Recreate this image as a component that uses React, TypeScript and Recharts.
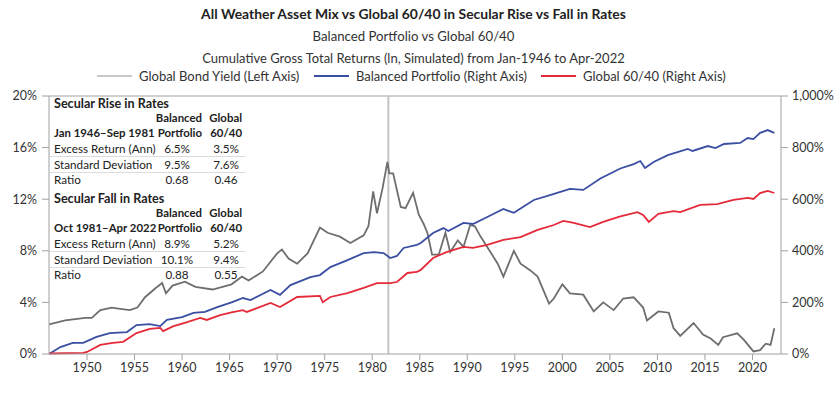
import React from "react";
import {
  LineChart,
  Line,
  XAxis,
  YAxis,
  ReferenceLine,
} from "recharts";

const FONT = "Lato, 'Open Sans', sans-serif";

// Global bond yield (left axis, %)
const bondYears = [
  1946.0, 1947.7, 1949.8, 1950.5, 1951.4, 1952.6, 1953.5, 1954.5, 1955.3, 1956.1,
  1957.2, 1957.9, 1958.3, 1959.0, 1960.3, 1961.4, 1963.2, 1965.2, 1966.3, 1967.0,
  1968.5, 1970.0, 1970.5, 1971.2, 1972.1, 1973.2, 1974.5, 1975.3, 1976.6, 1977.7,
  1979.1, 1979.6, 1980.1, 1980.5, 1981.1, 1981.6, 1981.8, 1982.2, 1983.0, 1983.5,
  1984.3, 1984.9, 1985.4, 1985.8, 1986.3, 1987.0, 1987.7, 1988.2, 1989.0, 1989.6,
  1990.3, 1990.8, 1991.4, 1992.1, 1993.2, 1993.8, 1994.9, 1995.6, 1996.6, 1997.4,
  1998.6, 1999.1, 2000.0, 2000.8, 2002.2, 2003.3, 2004.3, 2005.4, 2006.4, 2007.5,
  2008.5, 2008.9, 2010.1, 2011.2, 2011.7, 2012.4, 2013.8, 2014.8, 2015.6, 2016.4,
  2016.9, 2018.4, 2019.1, 2020.1, 2020.8, 2021.4, 2021.9, 2022.3,
];
const bondYield = [
  2.3, 2.6, 2.8, 2.8, 3.4, 3.6, 3.5, 3.4, 3.6, 4.4,
  5.1, 5.5, 4.7, 5.3, 5.6, 5.2, 5.0, 5.4, 6.0, 5.7,
  6.4, 7.8, 8.1, 7.4, 7.0, 7.8, 9.8, 9.4, 9.1, 8.6,
  9.2, 9.9, 12.6, 10.9, 12.9, 14.9, 14.0, 14.0, 11.4, 11.3,
  12.5, 10.8, 10.1, 9.4, 7.7, 7.7, 9.4, 7.9, 8.8, 8.3,
  10.0, 9.9, 9.1, 8.3, 7.0, 6.0, 8.0, 7.0, 6.5, 6.0,
  3.9, 4.3, 5.4, 4.7, 4.6, 3.3, 4.0, 3.4, 4.3, 4.4,
  3.6, 2.6, 3.3, 3.2, 2.0, 1.4, 2.4, 1.5, 1.2, 0.7,
  1.3, 1.6, 1.1, 0.2, 0.3, 0.8, 0.7, 2.0,
];

// Balanced Portfolio cumulative return (right axis, %)
const balancedYears = [
  1946.0, 1947.2, 1948.5, 1949.6, 1951.0, 1952.4, 1954.2, 1955.2, 1956.6, 1957.7,
  1958.4, 1960.0, 1961.2, 1962.4, 1963.7, 1965.2, 1966.4, 1967.2, 1969.3, 1970.3,
  1971.4, 1973.5, 1974.5, 1975.6, 1977.4, 1979.1, 1980.2, 1981.2, 1981.9, 1982.6,
  1983.3, 1984.7, 1985.1, 1986.4, 1987.5, 1988.0, 1989.6, 1990.6, 1992.1, 1993.8,
  1994.9, 1997.0, 1998.7, 2000.8, 2002.2, 2004.0, 2006.1, 2007.5, 2008.2, 2008.7,
  2009.6, 2011.1, 2013.2, 2013.7, 2015.3, 2016.1, 2017.0, 2018.7, 2019.5, 2020.1,
  2020.8, 2021.6, 2022.3,
];
const balancedReturn = [
  0, 27, 43, 43, 66, 81, 85, 112, 116, 108,
  132, 143, 159, 163, 182, 200, 217, 209, 248, 229,
  267, 298, 306, 337, 364, 391, 395, 391, 372, 380,
  411, 423, 430, 469, 488, 477, 508, 504, 531, 562,
  547, 597, 616, 640, 636, 680, 719, 736, 748, 721,
  744, 771, 795, 787, 806, 798, 814, 818, 837, 833,
  857, 868, 857,
];

// Global 60/40 cumulative return (right axis, %)
const globalYears = [
  1946.0, 1949.6, 1950.0, 1951.4, 1952.7, 1953.8, 1955.2, 1956.6, 1957.7, 1958.0,
  1959.1, 1960.2, 1961.9, 1962.6, 1964.0, 1965.2, 1966.4, 1966.8, 1969.3, 1970.3,
  1972.1, 1974.5, 1974.8, 1975.6, 1977.4, 1979.1, 1980.5, 1981.9, 1982.6, 1983.7,
  1984.7, 1985.1, 1986.4, 1987.8, 1989.6, 1990.6, 1992.1, 1993.8, 1995.6, 1997.4,
  1999.1, 2000.1, 2001.2, 2002.9, 2004.3, 2006.1, 2007.9, 2008.5, 2009.1, 2010.1,
  2011.7, 2012.4, 2014.5, 2016.3, 2018.0, 2019.5, 2020.1, 2020.8, 2021.6, 2022.3,
];
const globalReturn = [
  2, 4, 8, 35, 43, 47, 81, 97, 101, 89,
  108, 120, 140, 132, 151, 161, 170, 163, 198, 182,
  221, 225, 201, 221, 236, 256, 275, 275, 279, 314,
  318, 326, 372, 395, 415, 411, 423, 442, 453, 481,
  500, 516, 508, 492, 512, 533, 550, 539, 512, 543,
  554, 550, 578, 581, 597, 605, 601, 624, 632, 624,
];

const yearTicks = [1950, 1955, 1960, 1965, 1970, 1975, 1980, 1985, 1990, 1995, 2000, 2005, 2010, 2015, 2020];
const leftTicks = [0, 4, 8, 12, 16, 20];
const rightTicks = [0, 200, 400, 600, 800, 1000];

const legendItems = [
  { label: "Global Bond Yield (Left Axis)", color: "#c8c8c8", x: 97 },
  { label: "Balanced Portfolio (Right Axis)", color: "#3a4ea2", x: 314 },
  { label: "Global 60/40 (Right Axis)", color: "#e52a3a", x: 541 },
];

const riseRows = [
  ["Excess Return (Ann)", "6.5%", "3.5%"],
  ["Standard Deviation", "9.5%", "7.6%"],
  ["Ratio", "0.68", "0.46"],
];
const fallRows = [
  ["Excess Return (Ann)", "8.9%", "5.2%"],
  ["Standard Deviation", "10.1%", "9.4%"],
  ["Ratio", "0.88", "0.55"],
];

const toPoints = (years: number[], values: number[]) =>
  years.map((year, i) => ({ year, value: values[i] }));

const bondData = toPoints(bondYears, bondYield);
const balancedData = toPoints(balancedYears, balancedReturn);
const globalData = toPoints(globalYears, globalReturn);

const formatRight = (v: number) => `${v.toLocaleString("en-US")}%`;

function StatsBlock({ top, title, period, rows }: { top: number; title: string; period: string; rows: string[][] }) {
  const txt: React.CSSProperties = { position: "absolute", whiteSpace: "nowrap", lineHeight: "14px" };
  const head: React.CSSProperties = { ...txt, fontWeight: 700, fontSize: 11.4 };
  return (
    <div style={{ position: "absolute", left: 0, top, width: 250, height: 100 }}>
      <div style={{ ...txt, left: 54, top: 0, fontWeight: 700, fontSize: 12.6 }}>{title}</div>
      <div style={{ ...head, left: 140, width: 62, textAlign: "right", top: 14 }}>Balanced</div>
      <div style={{ ...head, left: 200, width: 42, textAlign: "right", top: 14 }}>Global</div>
      <div style={{ ...head, left: 54, top: 29 }}>{period}</div>
      <div style={{ ...head, left: 140, width: 62, textAlign: "right", top: 29 }}>Portfolio</div>
      <div style={{ ...head, left: 200, width: 42, textAlign: "right", top: 29 }}>60/40</div>
      {rows.map((r, i) => (
        <div key={r[0]}>
          <div style={{ ...txt, left: 54, top: 44 + i * 15.5, fontSize: 11.7 }}>{r[0]}</div>
          <div style={{ ...txt, left: 156, width: 42, textAlign: "center", top: 44 + i * 15.5, fontSize: 11.7 }}>{r[1]}</div>
          <div style={{ ...txt, left: 205, width: 42, textAlign: "center", top: 44 + i * 15.5, fontSize: 11.7 }}>{r[2]}</div>
          {i < rows.length - 1 && (
            <div style={{ position: "absolute", left: 50, top: 59 + i * 15.5, width: 195, height: 1, background: "#dcdcdc" }} />
          )}
        </div>
      ))}
    </div>
  );
}

export default function App() {
  return (
    <div
      style={{
        position: "fixed",
        left: 0,
        top: 0,
        width: 840,
        height: 393,
        background: "#fff",
        fontFamily: FONT,
        color: "#222",
      }}
    >
      <div style={{ position: "absolute", left: 0, top: 5, width: 827, textAlign: "center", fontWeight: 700, fontSize: 13.9 }}>
        All Weather Asset Mix vs Global 60/40 in Secular Rise vs Fall in Rates
      </div>
      <div style={{ position: "absolute", left: 0, top: 28, width: 827, textAlign: "center", fontSize: 13.2, color: "#333" }}>
        Balanced Portfolio vs Global 60/40
      </div>
      <div style={{ position: "absolute", left: 0, top: 50, width: 827, textAlign: "center", fontSize: 13, color: "#333" }}>
        Cumulative Gross Total Returns (ln, Simulated) from Jan-1946 to Apr-2022
      </div>
      {legendItems.map((item) => (
        <div key={item.label} style={{ position: "absolute", left: item.x, top: 67, height: 18, display: "flex", alignItems: "center" }}>
          <div style={{ width: 35, height: 2, background: item.color, marginRight: 7 }} />
          <span style={{ fontSize: 13, color: "#333", whiteSpace: "nowrap" }}>{item.label}</span>
        </div>
      ))}

      <div style={{ position: "absolute", left: 0, top: 0 }}>
        <LineChart width={840} height={393} margin={{ top: 96, right: 0, bottom: 9, left: 0 }}>
          <XAxis
            dataKey="year"
            type="number"
            domain={[1946, 2023]}
            ticks={yearTicks}
            allowDataOverflow
            height={30}
            tickSize={6}
            tickMargin={3}
            stroke="#a0a0a0"
            tick={{ fill: "#333", fontSize: 12.5, fontFamily: FONT }}
          />
          <YAxis
            yAxisId="left"
            domain={[0, 20]}
            ticks={leftTicks}
            width={49}
            tickSize={7}
            tickMargin={5}
            stroke="#a0a0a0"
            tickFormatter={(v: number) => `${v}%`}
            tick={{ fill: "#333", fontSize: 12.5, fontFamily: FONT }}
          />
          <YAxis
            yAxisId="right"
            orientation="right"
            domain={[0, 1000]}
            ticks={rightTicks}
            width={59}
            tickSize={7}
            tickMargin={4}
            stroke="#a0a0a0"
            tickFormatter={formatRight}
            tick={{ fill: "#333", fontSize: 12.5, fontFamily: FONT }}
          />
          <ReferenceLine yAxisId="left" y={20} stroke="#a0a0a0" strokeWidth={1} />
          <ReferenceLine yAxisId="left" x={1981.7} stroke="#c4c4c4" strokeWidth={2} />
          <Line
            yAxisId="left"
            data={bondData}
            dataKey="value"
            type="linear"
            stroke="#6e6e6e"
            strokeWidth={1.8}
            dot={false}
            isAnimationActive={false}
          />
          <Line
            yAxisId="right"
            data={balancedData}
            dataKey="value"
            type="linear"
            stroke="#3a4ea2"
            strokeWidth={1.8}
            dot={false}
            isAnimationActive={false}
          />
          <Line
            yAxisId="right"
            data={globalData}
            dataKey="value"
            type="linear"
            stroke="#e52a3a"
            strokeWidth={1.8}
            dot={false}
            isAnimationActive={false}
          />
        </LineChart>
      </div>

      <StatsBlock top={97} title="Secular Rise in Rates" period="Jan 1946–Sep 1981" rows={riseRows} />
      <StatsBlock top={192} title="Secular Fall in Rates" period="Oct 1981–Apr 2022" rows={fallRows} />
    </div>
  );
}
